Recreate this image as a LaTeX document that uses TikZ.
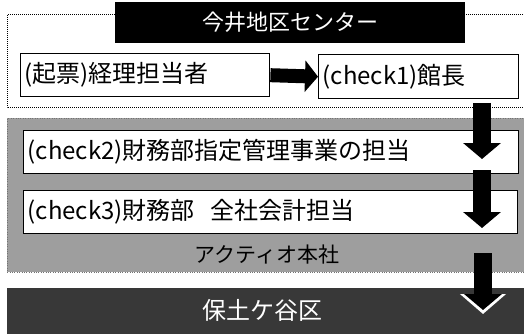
\documentclass[tikz,border=0pt]{standalone}
\usepackage{fontspec}
\newfontfamily\jp{Noto Sans CJK JP}
\usetikzlibrary{arrows.meta}
\begin{document}
\begin{tikzpicture}[x=1pt,y=-1pt,
  boxnode/.style={draw=black, line width=1.4pt, fill=white, anchor=north west,
    inner xsep=4pt, inner ysep=0pt, align=left, font=\jp\fontsize{24}{26}\selectfont},
  titlenode/.style={fill=black, text=white, anchor=north west, inner sep=0pt,
    font=\jp\fontsize{22}{26}\selectfont},
  blockarrow/.style={line width=18pt, -{Triangle[length=16pt,width=37pt]}},
  harrow/.style={line width=14pt, -{Triangle[length=13pt,width=31pt]}},
  regionlight/.style={fill=black!38, draw=black!55, dotted, anchor=north west, inner sep=0pt},
  regiondark/.style={fill=black!78, anchor=north west, inner sep=0pt}
]
\clip (0,0) rectangle (524,334);
\fill[white] (0,0) rectangle (524,334);
% outer dotted frame of the centre
\draw[densely dotted, line width=1pt] (7,15) rectangle (532,108);
\node[titlenode, minimum width=350pt, minimum height=41pt] (title) at (115,2) {今井地区センター};
\node[boxnode, minimum height=43pt, text width=241pt] (b1) at (20,53) {(起票)経理担当者};
\node[boxnode, minimum height=44pt, text width=192pt] (b2) at (318,54) {(check1)館長};
\draw[harrow] (b1.east) -- (b2.west);
% head office region
\node[regionlight, minimum width=525pt, minimum height=154pt] (hq) at (7,118) {};
\node[boxnode, minimum height=43pt, text width=487pt] (b3) at (23,130) {(check2)財務部指定管理事業の担当};
\node[boxnode, minimum height=43pt, text width=486pt] (b4) at (23,190) {(check3)財務部\ \ 全社会計担当};
\node[font=\jp\fontsize{21}{24}\selectfont, text=black] (hqlabel) at (267,255) {アクティオ本社};
% ward region
\node[regiondark, minimum width=525pt, minimum height=60pt] (ward) at (7,288) {};
\node[font=\jp\fontsize{24}{26}\selectfont, text=white] (wardlabel) at (262,310) {保土ケ谷区};
% vertical arrows
\coordinate (a1s) at (482,103);
\coordinate (a1e) at (482,159);
\coordinate (a2s) at (482,170);
\coordinate (a2e) at (482,228);
\coordinate (a3s) at (483,253);
\coordinate (a3e) at (483,310);
\coordinate (a3w) at (483,314);
\draw[blockarrow] (a1s) -- (a1e);
\draw[blockarrow] (a2s) -- (a2e);
\draw[white, line width=18pt, -{Triangle[length=20pt,width=45pt]}] (a3s) -- (a3w);
\draw[blockarrow] (a3s) -- (a3e);
\end{tikzpicture}
\end{document}
